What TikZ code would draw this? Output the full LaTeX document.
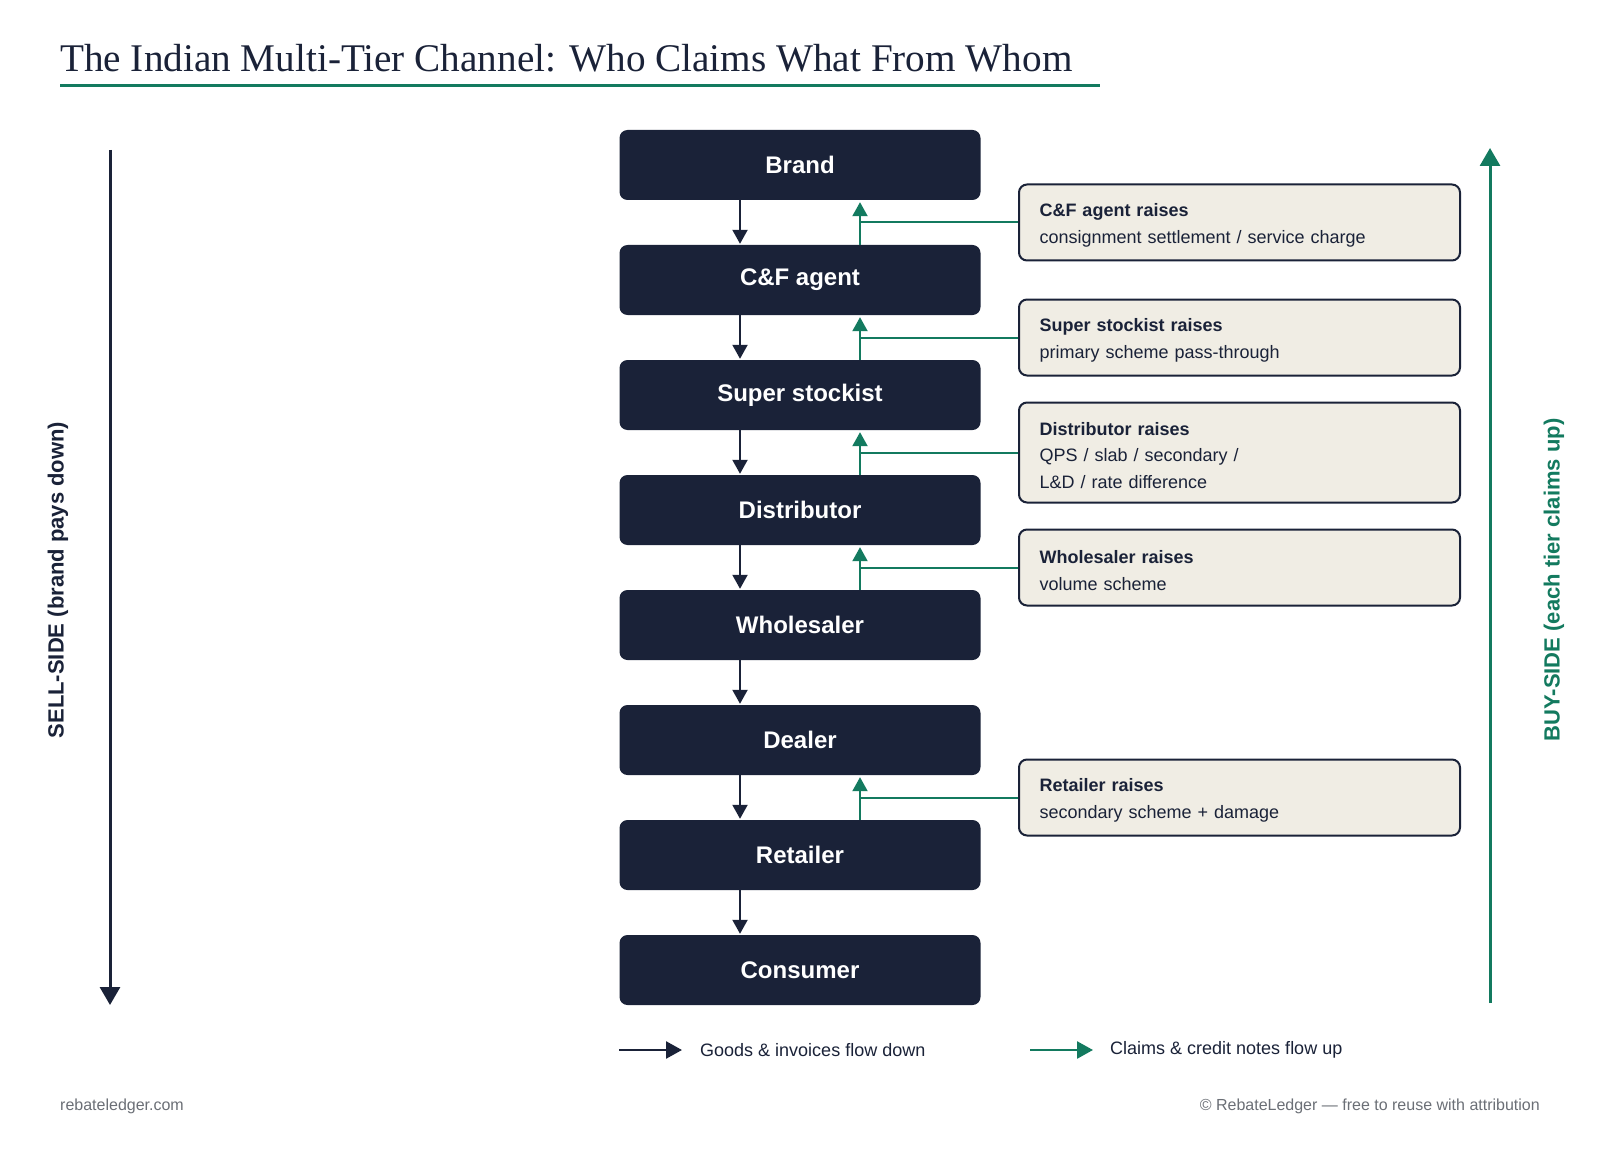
\documentclass[tikz,border=0pt]{standalone}
\usepackage{fontspec}
\setmainfont{Liberation Sans}
\newfontfamily\titlefont{Liberation Serif}
\usetikzlibrary{arrows.meta,calc}
\definecolor{navy}{HTML}{1A2238}
\definecolor{tgreen}{HTML}{137A5F}
\definecolor{beige}{HTML}{F0EDE4}
\definecolor{footgrey}{HTML}{6B6F76}
\newcommand{\annhead}[1]{\rule{0pt}{19pt}\textbf{#1}}
\tikzset{
  tier/.style={fill=navy, draw=none, rounded corners=8pt, minimum width=361pt, minimum height=70pt,
    text=white, font=\bfseries\fontsize{24}{28}\selectfont, inner sep=0pt},
  annot/.style={draw=navy, line width=2pt, fill=beige, rounded corners=8pt, text width=400pt,
    inner xsep=20.5pt, inner ysep=0pt, align=left, text=navy, font=\fontsize{18}{26.5}\selectfont},
  downarrow/.style={draw=navy, line width=2pt, -{Triangle[length=14pt,width=15pt]}, shorten >=1pt},
  uparrow/.style={draw=tgreen, line width=2pt, -{Triangle[length=14pt,width=15pt]}, shorten >=2pt},
  gline/.style={draw=tgreen, line width=2pt},
  sidelabel/.style={rotate=90, font=\bfseries\fontsize{22}{26}\selectfont, inner sep=0pt},
  legendtext/.style={anchor=west, inner sep=0pt, text=navy, font=\fontsize{18}{22}\selectfont},
  foot/.style={inner sep=0pt, text=footgrey, font=\fontsize{16}{20}\selectfont}
}
\begin{document}
\begin{tikzpicture}[x=1pt,y=-1pt]
\useasboundingbox[fill=white] (0,0) rectangle (1600,1150);

% title
\node[anchor=base west, inner sep=0pt, text=navy, font=\titlefont\fontsize{39.2}{47}\selectfont] (title) at (60,71.5) {The Indian Multi-Tier Channel: Who Claims What From Whom};
\draw[tgreen, line width=3pt] (60,85.5) -- (1100,85.5);

% tiers
\node[tier] (brand) at (800,165) {Brand};
\node[tier] (cf) at (800,280) {C\&F agent};
\node[tier] (super) at (800,395) {Super stockist};
\node[tier] (dist) at (800,510) {Distributor};
\node[tier] (whole) at (800,625) {Wholesaler};
\node[tier] (dealer) at (800,740) {Dealer};
\node[tier] (retail) at (800,855) {Retailer};
\node[tier] (consumer) at (800,970) {Consumer};

\coordinate (dnx) at (740,0);
\coordinate (upx) at (860,0);

% down arrows
\draw[downarrow] (brand.south -| dnx) -- (cf.north -| dnx);
\draw[downarrow] (cf.south -| dnx) -- (super.north -| dnx);
\draw[downarrow] (super.south -| dnx) -- (dist.north -| dnx);
\draw[downarrow] (dist.south -| dnx) -- (whole.north -| dnx);
\draw[downarrow] (whole.south -| dnx) -- (dealer.north -| dnx);
\draw[downarrow] (dealer.south -| dnx) -- (retail.north -| dnx);
\draw[downarrow] (retail.south -| dnx) -- (consumer.north -| dnx);

% annotations
\node[annot, minimum height=76pt] (acf) at (1239.5,222.5) {\annhead{C\&F agent raises}\\consignment settlement / service charge};
\node[annot, minimum height=76pt] (asuper) at (1239.5,337.5) {\annhead{Super stockist raises}\\primary scheme pass-through};
\node[annot, minimum height=100pt] (adist) at (1239.5,452.5) {\annhead{Distributor raises}\\QPS / slab / secondary /\\L\&D / rate difference};
\node[annot, minimum height=76pt] (awhole) at (1239.5,567.5) {\annhead{Wholesaler raises}\\volume scheme};
\node[annot, minimum height=76pt] (aretail) at (1239.5,797.5) {\annhead{Retailer raises}\\secondary scheme + damage};

% up arrows and feeders
\draw[uparrow] (cf.north -| upx) -- (brand.south -| upx);
\draw[gline] (acf.west) -- (acf.west -| upx);
\draw[uparrow] (super.north -| upx) -- (cf.south -| upx);
\draw[gline] (asuper.west) -- (asuper.west -| upx);
\draw[uparrow] (dist.north -| upx) -- (super.south -| upx);
\draw[gline] (adist.west) -- (adist.west -| upx);
\draw[uparrow] (whole.north -| upx) -- (dist.south -| upx);
\draw[gline] (awhole.west) -- (awhole.west -| upx);
\draw[uparrow] (retail.north -| upx) -- (dealer.south -| upx);
\draw[gline] (aretail.west) -- (aretail.west -| upx);

% side arrows
\coordinate (ls) at (110,150);
\coordinate (le) at (110,1005);
\draw[navy, line width=3pt, -{Triangle[length=18pt,width=20pt]}] (ls) -- (le);
\node[sidelabel, text=navy] (sell) at (58,580) {SELL-SIDE (brand pays down)};

\coordinate (rs) at (1490,1003);
\coordinate (re) at (1490,148);
\draw[tgreen, line width=3pt, -{Triangle[length=18pt,width=20pt]}] (rs) -- (re);
\node[sidelabel, text=tgreen] (buy) at (1554,580) {BUY-SIDE (each tier claims up)};

% legend
\coordinate (l1s) at (619,1050);
\coordinate (l1e) at (682,1050);
\draw[navy, line width=2.5pt, -{Triangle[length=16pt,width=17pt]}] (l1s) -- (l1e);
\node[legendtext] (l1t) at (700,1050) {Goods \& invoices flow down};
\coordinate (l2s) at (1030,1050);
\coordinate (l2e) at (1093,1050);
\draw[tgreen, line width=2.5pt, -{Triangle[length=16pt,width=17pt]}] (l2s) -- (l2e);
\node[legendtext] (l2t) at (1110,1050) {Claims \& credit notes flow up};

% footer
\node[foot, anchor=west] (fl) at (60,1106) {rebateledger.com};
\node[foot, anchor=east] (fr) at (1540,1106) {© RebateLedger — free to reuse with attribution};
\end{tikzpicture}
\end{document}
